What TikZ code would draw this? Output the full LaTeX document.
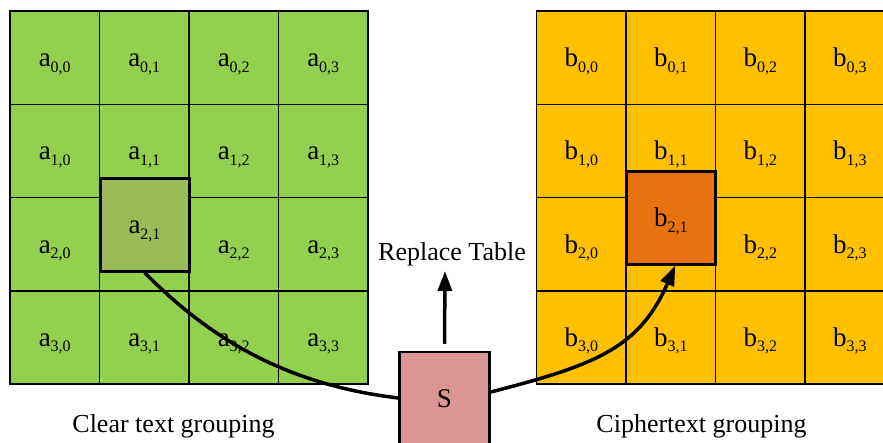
\documentclass[tikz,border=0pt]{standalone}
\usepackage{fontspec}
\setmainfont{Liberation Serif}
\usetikzlibrary{arrows.meta}
\definecolor{cgreen}{HTML}{92D050}
\definecolor{cyellow}{HTML}{FFC000}
\definecolor{colive}{HTML}{9BBB59}
\definecolor{corange}{HTML}{E8720F}
\definecolor{cpink}{HTML}{D99694}
\newcommand{\lbl}[2]{{\fontsize{27}{30}\selectfont #1}{\fontsize{16}{18}\selectfont\raisebox{-5.5pt}{#2}}}
\newcommand{\celltext}[3]{\ifnum#2=2 \ifnum#3=1 \else\lbl{#1}{#2,#3}\fi\else\lbl{#1}{#2,#3}\fi}
\begin{document}
\begin{tikzpicture}[x=1pt,y=-1pt,
  cellbox/.style={draw, line width=1.5pt, minimum width=89.5pt, minimum height=93.25pt,
    inner sep=0pt, text height=24pt, text depth=6pt},
  hlbox/.style={draw, line width=3pt, minimum width=89pt, minimum height=93pt,
    inner sep=0pt, text height=24pt, text depth=6pt},
  sbox/.style={draw, line width=2.5pt, fill=cpink, minimum width=90pt, minimum height=92pt,
    inner sep=0pt, text height=24pt, text depth=6pt, font=\fontsize{27}{30}\selectfont},
  caption/.style={anchor=base, inner sep=0pt, font=\fontsize{26}{30}\selectfont},
  curve/.style={line width=3.5pt},
  tipstyle/.style={-{Triangle[length=20pt,width=14pt]}}]
\useasboundingbox (0,0) rectangle (883,442);
\clip (0,0) rectangle (883,442);
\foreach \row in {0,...,3} {
  \foreach \col in {0,...,3} {
    \node[cellbox, fill=cgreen] (a\row\col) at ({54.75+89.5*\col},{57.625+93.25*\row}) {\celltext{a}{\row}{\col}};
    \node[cellbox, fill=cyellow] (b\row\col) at ({581.25+89.5*\col},{57.625+93.25*\row}) {\celltext{b}{\row}{\col}};
  }
}
\node[hlbox, fill=colive] (la) at (144.5,224.5) {\lbl{a}{2,1}};
\node[hlbox, fill=corange, minimum width=89.5pt] (rb) at (670.75,217.5) {\lbl{b}{2,1}};
\node[sbox] (S) at (444.5,398) {S};
\node[caption] (rt) at (452,260) {Replace Table};
\coordinate (up) at (445,271);
\draw[curve, tipstyle] ([yshift=7pt]S.north) -- (up);
\draw[curve] (la.south) .. controls (213,342) and (290,385) .. (S.west);
\draw[curve, tipstyle] ([yshift=6pt]S.east) .. controls (596.6,364.8) and (639.5,347.7) .. ([xshift=4.5pt]rb.south);
\node[caption] (cl) at (173.5,432) {Clear text grouping};
\node[caption] (ct) at (701.5,432) {Ciphertext grouping};
\end{tikzpicture}
\end{document}
